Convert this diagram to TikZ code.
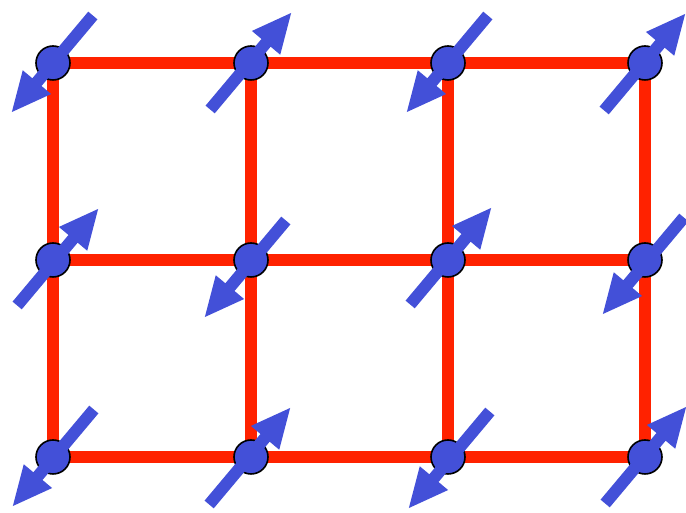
\documentclass[tikz,border=0pt]{standalone}
\usetikzlibrary{backgrounds}
\definecolor{spinblue}{RGB}{67,80,216}
\definecolor{bondred}{RGB}{255,34,0}
\begin{document}
\begin{tikzpicture}[x=1pt,y=1pt,
  site/.style={circle,draw=black,line width=1.6pt,fill=spinblue,minimum size=34pt,inner sep=0pt},
  bond/.style={draw=bondred,line width=12pt},
  spin/.pic={\fill[spinblue] (-62,-6) -- (25,-6) -- (25,-18.5) -- (64,0) -- (25,18.5) -- (25,6) -- (-62,6) -- cycle;}
]
\useasboundingbox (0,0) rectangle (686,513);
\foreach \c/\x in {0/53,1/251,2/448,3/645}
  \foreach \r/\y in {0/450,1/253,2/56}
    \node[site] (n\r\c) at (\x,\y) {};
\begin{scope}[on background layer]
  \foreach \r in {0,1,2}
    \foreach \c/\d in {0/1,1/2,2/3}
      \draw[bond] (n\r\c.center) -- (n\r\d.center);
  \foreach \c in {0,1,2,3}
    \foreach \r/\s in {0/1,1/2}
      \draw[bond] (n\r\c.center) -- (n\s\c.center);
\end{scope}
\foreach \r/\c/\a/\dx/\dy in {0/0/230/0/0,0/1/50/-1/1,0/2/230/0/0,0/3/50/-1/0,
                      1/0/50/4/2,1/1/230/-5/-8,1/2/50/2/3,1/3/230/-1/-5,
                      2/0/230/1/0,2/1/50/-2/0,2/2/230/2/-2,2/3/50/0/1}
  \pic[shift={(\dx,\dy)},rotate=\a] at (n\r\c) {spin};
\end{tikzpicture}
\end{document}
